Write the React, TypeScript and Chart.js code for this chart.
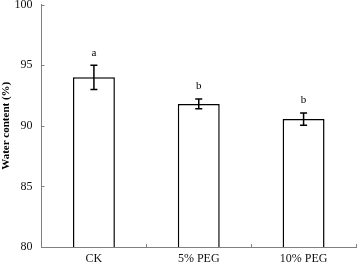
import React, { useEffect, useRef } from "react";
import { Chart, registerables } from "chart.js";

Chart.register(...registerables);

const categories = ["CK", "5% PEG", "10% PEG"];
const values = [94.0, 91.8, 90.55];
const errors = [1.0, 0.4, 0.5];
const letters = ["a", "b", "b"];
const yTicks = [80, 85, 90, 95, 100];

const FONT = "'Liberation Serif', 'Times New Roman', serif";

const extrasPlugin = {
  id: "extras",
  afterDatasetsDraw(chart: any) {
    const ctx = chart.ctx;
    const x = chart.scales.x;
    const y = chart.scales.y;
    const area = chart.chartArea;
    ctx.save();
    ctx.strokeStyle = "#808080";
    ctx.lineWidth = 1;
    yTicks.forEach((v) => {
      const py = Math.round(y.getPixelForValue(v)) + 0.5;
      ctx.beginPath();
      ctx.moveTo(area.left, py);
      ctx.lineTo(area.left + 3, py);
      ctx.stroke();
    });
    const n = categories.length;
    for (let i = 1; i <= n; i++) {
      let px;
      if (i < n) px = (x.getPixelForTick(i - 1) + x.getPixelForTick(i)) / 2;
      else px = area.right - 0.5;
      px = Math.round(px) + 0.5;
      ctx.beginPath();
      ctx.moveTo(px, area.bottom);
      ctx.lineTo(px, area.bottom - 3);
      ctx.stroke();
    }
    ctx.strokeStyle = "#000";
    ctx.lineWidth = 1.5;
    ctx.fillStyle = "#000";
    ctx.font = "11px " + FONT;
    ctx.textAlign = "center";
    ctx.textBaseline = "bottom";
    values.forEach((v, i) => {
      const px = x.getPixelForTick(i);
      const top = y.getPixelForValue(v + errors[i]);
      const bot = y.getPixelForValue(v - errors[i]);
      ctx.beginPath();
      ctx.moveTo(px, top);
      ctx.lineTo(px, bot);
      ctx.moveTo(px - 3.5, top);
      ctx.lineTo(px + 3.5, top);
      ctx.moveTo(px - 3.5, bot);
      ctx.lineTo(px + 3.5, bot);
      ctx.stroke();
      ctx.fillText(letters[i], px, top - 7);
    });
    ctx.restore();
  },
};

export default function App() {
  const ref = useRef<HTMLCanvasElement>(null);
  useEffect(() => {
    document.body.style.margin = "0";
    const chart = new Chart(ref.current as HTMLCanvasElement, {
      type: "bar",
      data: {
        labels: categories,
        datasets: [
          {
            data: values,
            backgroundColor: "#ffffff",
            borderColor: "#000000",
            borderWidth: 1.5,
            barPercentage: 0.4,
            categoryPercentage: 1,
          },
        ],
      },
      options: {
        animation: false,
        responsive: false,
        maintainAspectRatio: false,
        layout: { padding: { top: 4.5, right: 1, left: 0, bottom: 0 } },
        plugins: { legend: { display: false }, tooltip: { enabled: false } },
        scales: {
          x: {
            grid: { display: false, drawTicks: false },
            border: { display: true, color: "#808080", width: 1 },
            ticks: { color: "#111", font: { family: FONT, size: 12 }, padding: 5 },
            afterFit: (s: any) => {
              s.height = 18;
              s.paddingLeft = 0;
              s.paddingRight = 0;
            },
          },
          y: {
            min: 80,
            max: 100,
            grid: { display: false, drawTicks: false },
            border: { display: true, color: "#808080", width: 1 },
            ticks: {
              stepSize: 5,
              color: "#111",
              font: { family: FONT, size: 12 },
              padding: 9,
            },
            title: {
              display: true,
              text: "Water content (%)",
              color: "#000",
              font: { family: FONT, size: 11, weight: "bold" },
              padding: { top: 0, bottom: 0 },
            },
            afterFit: (s: any) => {
              s.width = 41.5;
              s.paddingTop = 0;
              s.paddingBottom = 0;
            },
          },
        },
      },
      plugins: [extrasPlugin],
    });
    return () => chart.destroy();
  }, []);
  return (
    <div style={{ position: "fixed", left: 0, top: 0, width: 357, height: 265, background: "#fff" }}>
      <canvas ref={ref} width={357} height={265} />
    </div>
  );
}
